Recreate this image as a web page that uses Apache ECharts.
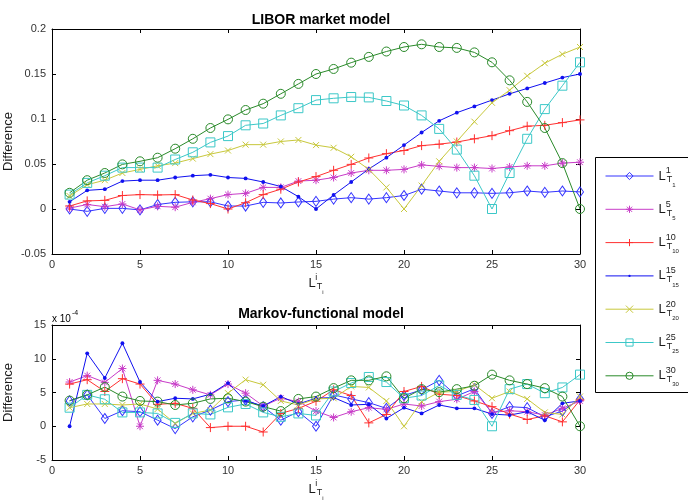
<!DOCTYPE html>
<html>
<head>
<meta charset="utf-8">
<script src="https://cdn.jsdelivr.net/npm/echarts@6/dist/echarts.min.js"></script>
<style>
  html, body { margin: 0; padding: 0; background: #fff; }
  #chart { width: 688px; height: 504px; }
</style>
</head>
<body>
<div id="chart"></div>
<script>
// ---------- data ----------
const maturities = [1,2,3,4,5,6,7,8,9,10,11,12,13,14,15,16,17,18,19,20,21,22,23,24,25,26,27,28,29,30];
const seriesIds = [1, 5, 10, 15, 20, 25, 30];
const xTicks = [0, 5, 10, 15, 20, 25, 30];
const topYTicks = [-0.05, 0, 0.05, 0.1, 0.15, 0.2];
const bottomYTicks = [-5, 0, 5, 10, 15];

// LIBOR market model differences
const lmm1  = [0.000,-0.0026,0.0007,0.0007,-0.001,0.005,0.0074,0.008,0.008,0.0033,0.0033,0.0074,0.0067,0.0078,0.0085,0.011,0.0126,0.011,0.0126,0.015,0.022,0.020,0.018,0.018,0.0174,0.018,0.020,0.0185,0.020,0.019];
const lmm5  = [0.001,0.005,0.0026,0.0056,-0.001,0.003,0.002,0.0074,0.0115,0.016,0.0174,0.024,0.024,0.031,0.032,0.035,0.040,0.043,0.043,0.044,0.049,0.0474,0.046,0.046,0.045,0.0467,0.048,0.048,0.051,0.052];
const lmm10 = [0.0033,0.009,0.0096,0.015,0.016,0.0156,0.016,0.010,0.006,0.000,0.007,0.016,0.022,0.030,0.036,0.043,0.0496,0.0567,0.0615,0.065,0.0704,0.072,0.0744,0.078,0.0815,0.087,0.092,0.093,0.096,0.099];
const lmm15 = [0.008,0.0207,0.022,0.031,0.032,0.032,0.035,0.037,0.038,0.035,0.034,0.030,0.025,0.0137,0.000,0.0156,0.030,0.0444,0.057,0.071,0.085,0.098,0.107,0.114,0.121,0.128,0.134,0.140,0.146,0.150];
const lmm20 = [0.0144,0.027,0.032,0.040,0.044,0.048,0.051,0.056,0.061,0.065,0.0715,0.0715,0.075,0.0767,0.071,0.068,0.058,0.044,0.024,0.000,0.026,0.053,0.075,0.097,0.118,0.132,0.148,0.162,0.172,0.180];
const lmm25 = [0.016,0.029,0.037,0.046,0.046,0.046,0.055,0.063,0.074,0.081,0.093,0.095,0.104,0.112,0.121,0.123,0.1244,0.124,0.120,0.115,0.104,0.089,0.066,0.037,0.000,0.040,0.078,0.111,0.137,0.163];
const lmm30 = [0.018,0.032,0.040,0.0496,0.053,0.057,0.067,0.078,0.090,0.0996,0.110,0.117,0.128,0.139,0.150,0.1556,0.1626,0.169,0.175,0.180,0.183,0.180,0.179,0.174,0.163,0.143,0.119,0.090,0.051,0.000];

// Markov-functional model differences (x 1e-4)
const mfm1  = [3.75,4.65,1.15,2.3,2.15,0.9,-0.35,1.4,2.4,3.65,3.9,2.9,0.9,2.15,0,4.65,4.05,3.5,2.65,4.55,5.4,6.8,4.5,5.55,1.9,2.9,2.75,1.4,2.25,4.05];
const mfm5  = [6.55,7.5,6.5,8.55,0,6.8,6.25,5.4,4.65,6.25,4.9,3.0,4.15,3.65,2.25,1.3,2.15,2.75,2.5,3.3,3.0,3.65,4.0,5.15,2.05,2.3,2.15,1.65,2.65,3.75];
const mfm10 = [6.25,6.9,5.15,7.05,6.25,3.25,3.4,2.65,-0.2,0,0,-0.85,1.9,2.65,3.7,5.4,4.55,0.5,1.75,5.15,5.9,4.75,4.55,3.75,2.9,1.8,1.0,1.55,0.65,3.9];
const mfm15 = [0,10.8,7.15,12.3,6.55,3.65,4.15,4.05,4.75,6.4,3.75,3.0,4.4,3.3,4.15,4.25,3.15,3.25,1.15,2.75,1.9,3.15,2.65,2.65,1.8,1.65,2.15,0.9,3.4,3.75];
const mfm20 = [2.75,3.3,3.3,3.15,3.3,2.55,0.4,1.9,2.4,4.9,6.9,6.15,3.75,3.15,4.05,4.15,5.9,5.75,3.75,0,3.65,5.05,5.15,6.15,4.15,5.15,4.05,2.05,1.75,4.4];
const mfm25 = [2.75,4.65,4.0,2.05,2.05,1.9,0.5,1.9,1.75,2.8,3.3,2.05,1.4,1.9,1.6,5.15,6.4,7.3,6.55,4.15,4.55,6.05,4.65,3.9,0,5.5,6.25,4.9,5.75,7.65];
const mfm30 = [3.8,4.65,5.8,4.4,3.75,3.65,3.15,3.4,4.05,4.15,3.65,2.9,2.25,4.05,4.4,5.65,6.8,6.8,7.4,4.15,5.5,5.05,5.5,6.0,7.65,6.8,6.25,5.65,4.4,0];

const topTitle = 'LIBOR market model';
const bottomTitle = 'Markov-functional model';
const yName = 'Difference';

// ---------- styles ----------
const colors = ['#3434ff', '#c83cc8', '#ff3030', '#1010f0', '#c8c83c', '#3cc8c8', '#2a8a2a'];
const symbols = [
  'diamond',
  'path://M0,-5L0,5M-5,0L5,0M-3.6,-3.6L3.6,3.6M-3.6,3.6L3.6,-3.6',
  'path://M0,-5L0,5M-5,0L5,0',
  'path://M0,-1.6A1.6,1.6 0 1 1 0,1.6A1.6,1.6 0 1 1 0,-1.6ZM-5,-5L-5,-5M5,5L5,5',
  'path://M-5,-5L5,5M-5,5L5,-5',
  'rect',
  'circle'
];
const symbolSizes = [[7,10], 8, 9, 12, 6, 9, 9];
const hollow = [true, true, true, false, true, true, true];
const topData = [lmm1, lmm5, lmm10, lmm15, lmm20, lmm25, lmm30];
const botData = [mfm1, mfm5, mfm10, mfm15, mfm20, mfm25, mfm30];

const font = 'Liberation Sans, Arial, Helvetica, sans-serif';
const textCol = '#1a1a1a';

const richSub = {
  L:   { fontSize: 13, lineHeight: 24, color: textCol, fontFamily: font },
  sup: { fontSize: 9, lineHeight: 14, padding: [0, 0, 10, 0], width: 1, align: 'left', color: textCol, fontFamily: font },
  sub: { fontSize: 9, lineHeight: 14, padding: [9, 0, 1, 0], color: textCol, fontFamily: font },
  ss:  { fontSize: 6, lineHeight: 6, padding: [18, 0, 0, 0], color: textCol, fontFamily: font }
};

function pairs(arr) { return maturities.map((m, i) => [m, arr[i]]); }
function markStyle(k) {
  return hollow[k]
    ? { color: 'rgba(0,0,0,0)', borderColor: colors[k], borderWidth: 1 }
    : { color: colors[k], borderColor: colors[k], borderWidth: 0 };
}

function makeSeries(dataSet, xi, yi) {
  return seriesIds.map((id, k) => ({
    name: 'L' + id,
    type: 'line',
    xAxisIndex: xi,
    yAxisIndex: yi,
    data: pairs(dataSet[k]),
    symbol: symbols[k],
    symbolSize: symbolSizes[k],
    showAllSymbol: true,
    animation: false,
    lineStyle: { color: colors[k], width: 1 },
    itemStyle: markStyle(k),
    emphasis: { disabled: true }
  }));
}

function xAx(gi, pos, showLabel) {
  return {
    gridIndex: gi, type: 'value', position: pos, min: 0, max: 30, interval: 5,
    axisLine: { show: true, onZero: false, lineStyle: { color: '#000', width: 1 } },
    axisTick: { show: true, inside: true, length: 4, lineStyle: { color: '#000' } },
    axisLabel: { show: showLabel, fontSize: 11, color: '#333', margin: 5, fontFamily: font },
    splitLine: { show: false },
    name: showLabel ? '{L|L}{sup|i}{sub|T}{ss|i}' : '',
    nameLocation: 'middle', nameGap: 17,
    nameTextStyle: { rich: richSub, verticalAlign: 'top' }
  };
}
function yAx(gi, pos, showLabel, mn, mx, iv, extra) {
  return Object.assign({
    gridIndex: gi, type: 'value', position: pos, min: mn, max: mx, interval: iv,
    axisLine: { show: true, onZero: false, lineStyle: { color: '#000', width: 1 } },
    axisTick: { show: true, inside: true, length: 4, lineStyle: { color: '#000' } },
    axisLabel: { show: showLabel, fontSize: 11, color: '#333', margin: 6, fontFamily: font },
    splitLine: { show: false }
  }, extra || {});
}

const chart = echarts.init(document.getElementById('chart'), null, { renderer: 'canvas' });
chart.setOption({
  backgroundColor: '#fff',
  animation: false,
  title: [
    { text: topTitle, left: 316, top: 8, textAlign: 'center',
      textStyle: { fontSize: 14, fontWeight: 'bold', color: '#000', fontFamily: font } },
    { text: bottomTitle, left: 316, top: 302, textAlign: 'center',
      textStyle: { fontSize: 14, fontWeight: 'bold', color: '#000', fontFamily: font } }
  ],
  grid: [
    { left: 52, top: 29, width: 528, height: 225, containLabel: false, outerBoundsMode: 'none' },
    { left: 52, top: 325, width: 528, height: 135, containLabel: false, outerBoundsMode: 'none' }
  ],
  xAxis: [ xAx(0, 'bottom', true), xAx(0, 'top', false), xAx(1, 'bottom', true), xAx(1, 'top', false) ],
  yAxis: [
    yAx(0, 'left', true, -0.05, 0.2, 0.05, {
      name: yName, nameLocation: 'middle', nameGap: 37, nameMoveOverlap: false,
      nameTextStyle: { fontSize: 13, color: textCol, fontFamily: font } }),
    yAx(0, 'right', false, -0.05, 0.2, 0.05),
    yAx(1, 'left', true, -5, 15, 5, {
      name: yName, nameLocation: 'middle', nameGap: 37, nameMoveOverlap: false,
      nameTextStyle: { fontSize: 13, color: textCol, fontFamily: font } }),
    yAx(1, 'right', false, -5, 15, 5)
  ],
  legend: {
    orient: 'vertical', left: 605, top: 164, padding: 0,
    itemWidth: 48, itemHeight: 9, itemGap: 9.3,
    data: seriesIds.map((id, k) => ({ name: 'L' + id, itemStyle: markStyle(k),
                                      lineStyle: { color: colors[k], width: 1 } })),
    lineStyle: { width: 1 },
    formatter: n => { const v = n.slice(1); return '{L|L}{sup|' + v + '}{sub|T}{ss|' + v + '}'; },
    textStyle: { rich: richSub },
    selectedMode: false
  },
  graphic: [
    { type: 'rect', z: -1, shape: { x: 595.5, y: 157.5, width: 140, height: 235 },
      style: { fill: '#fff', stroke: '#000', lineWidth: 1 } },
    { type: 'text', left: 52, top: 310,
      style: { text: '{a|x 10}{b|-4}', fontFamily: font,
        rich: { a: { fontSize: 10, color: textCol, lineHeight: 14, padding: [4,0,0,0] },
                b: { fontSize: 7, color: textCol, lineHeight: 10, padding: [0,0,8,1] } } } }
  ],
  series: makeSeries(topData, 0, 0).concat(makeSeries(botData, 2, 2))
});
</script>
</body>
</html>
